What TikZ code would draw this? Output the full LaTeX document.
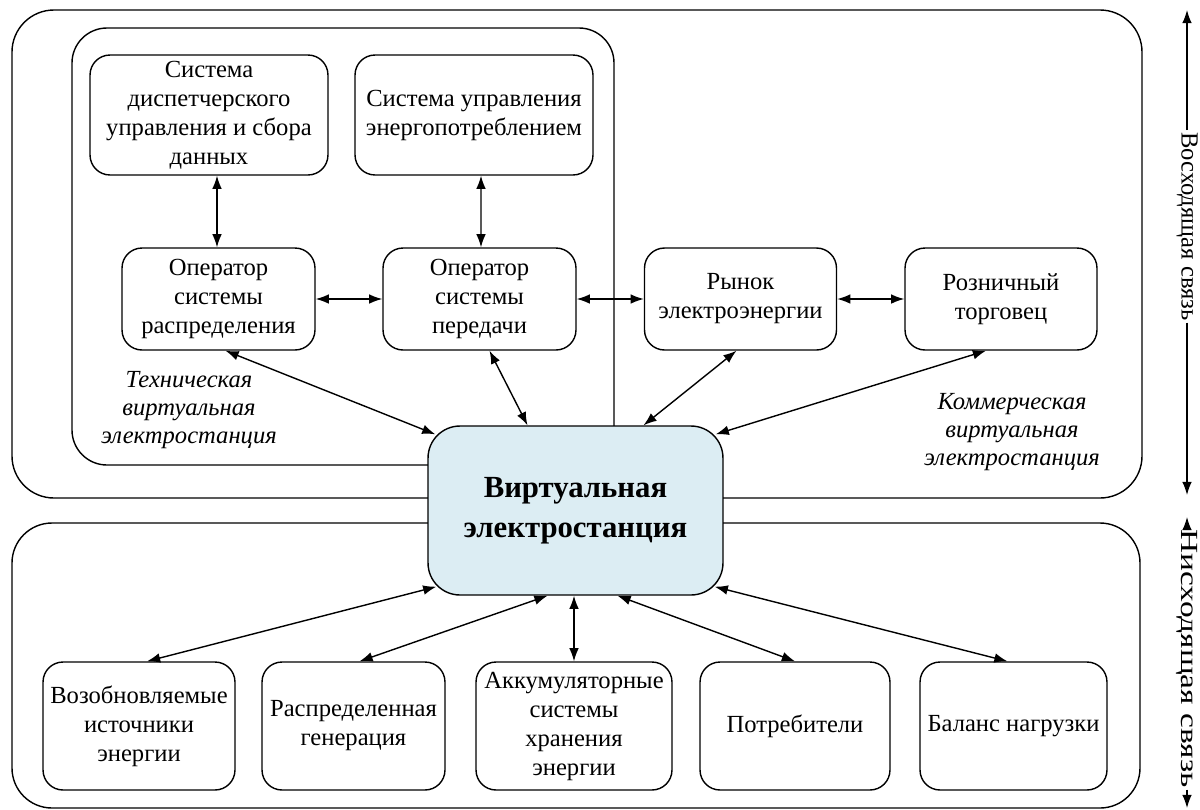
\documentclass[tikz,border=0pt]{standalone}
\usepackage{fontspec}
\setmainfont{Liberation Serif}
\usetikzlibrary{arrows.meta,calc}

\definecolor{vppblue}{RGB}{220,237,243}

\tikzset{
  box/.style={draw, line width=0.8pt, rounded corners=0.4cm, align=center,
    inner sep=0pt, font={\fontsize{14pt}{16.5pt}\selectfont}},
  frame/.style={draw, line width=0.8pt},
  link/.style={line width=0.8pt, {Latex[length=7.5pt,width=5.5pt]}-{Latex[length=7.5pt,width=5.5pt]}},
  tip/.style={line width=0.8pt, -{Latex[length=7.5pt,width=5.5pt]}},
  vpplabel/.style={align=center, font={\itshape\fontsize{14pt}{16pt}\selectfont}},
  side/.style={rotate=-90, inner sep=1pt, font={\fontsize{14pt}{16pt}\selectfont}},
}

\begin{document}
\begin{tikzpicture}[x=0.02cm, y=-0.02cm]
  \useasboundingbox (0,0) rectangle (1200,809);
  % frames
  \draw[frame, rounded corners=0.84cm] (12,10) rectangle (1142,498);
  \draw[frame, rounded corners=0.8cm] (12,523) rectangle (1140,808);
  \draw[frame, rounded corners=0.7cm] (72,28) rectangle (614,465);

  % upper level
  \node[box, minimum width=4.76cm, minimum height=2.4cm] (scada) at (209,115)
    {Система\\диспетчерского\\управления и сбора\\данных};
  \node[box, minimum width=4.76cm, minimum height=2.4cm] (ems) at (474,115)
    {Система управления\\энергопотреблением};
  \node[box, minimum width=3.86cm, minimum height=2.04cm] (dso) at (218.5,299)
    {Оператор\\системы\\распределения};
  \node[box, minimum width=3.86cm, minimum height=2.04cm] (tso) at (479.5,299)
    {Оператор\\системы\\передачи};
  \node[box, minimum width=3.84cm, minimum height=2.04cm] (market) at (740.5,299)
    {Рынок\\электроэнергии};
  \node[box, minimum width=3.84cm, minimum height=2.04cm] (retail) at (1001,299)
    {Розничный\\торговец};

  \node[box, fill=vppblue, rounded corners=0.64cm, minimum width=5.9cm, minimum height=3.38cm,
    font={\bfseries\fontsize{17.5pt}{22.5pt}\selectfont}] (vpp) at (575.5,510.5)
    {Виртуальная\\электростанция};

  % lower level
  \node[box, minimum width=3.84cm, minimum height=2.56cm] (ren) at (139,726)
    {Возобновляемые\\источники\\энергии};
  \node[box, minimum width=3.66cm, minimum height=2.56cm] (gen) at (353.5,726)
    {Распределенная\\генерация};
  \node[box, minimum width=3.92cm, minimum height=2.56cm] (bat) at (574,726)
    {Аккумуляторные\\системы\\хранения\\энергии};
  \node[box, minimum width=3.8cm, minimum height=2.56cm] (cons) at (795,726)
    {Потребители};
  \node[box, minimum width=3.74cm, minimum height=2.56cm] (bal) at (1013.5,726)
    {Баланс нагрузки};

  \node[vpplabel] (techlabel) at (189,410) {Техническая\\виртуальная\\электростанция};
  \node[vpplabel] (commlabel) at (1012,432) {Коммерческая\\виртуальная\\электростанция};

  % links
  \draw[link] ($(scada.south)+(8,0)$) -- ($(dso.north)+(-1.5,0)$);
  \draw[link] ($(ems.south)+(7,0)$) -- ($(tso.north)+(1.5,0)$);
  \draw[link] (dso.east) -- (tso.west);
  \draw[link] (tso.east) -- (market.west);
  \draw[link] (market.east) -- (retail.west);
  \draw[link] ($(dso.south)+(7,0)$) -- ($(vpp.north west)+(8,9)$);
  \draw[link] ($(tso.south)+(10,0)$) -- ($(vpp.north)+(-48,0)$);
  \draw[link] ($(market.south)+(-4,0)$) -- ($(vpp.north)+(68,0)$);
  \draw[link] ($(retail.south)+(-15,0)$) -- ($(vpp.north east)+(-8,9)$);

  \draw[link] ($(vpp.south west)+(9,-9)$) -- ($(ren.north)+(8,0)$);
  \draw[link] ($(vpp.south)+(-28,0)$) -- ($(gen.north)+(6,0)$);
  \draw[link] ($(vpp.south)+(-1.5,0)$) -- (bat.north);
  \draw[link] ($(vpp.south)+(42,0)$) -- (cons.north);
  \draw[link] ($(vpp.south east)+(-9,-9)$) -- ($(bal.north)+(-6,0)$);

  % side labels
  \node[side, anchor=west] (uplink) at (1187,130) {Восходящая связь};
  \coordinate (uptop) at (1187,10);
  \coordinate (upbottom) at (1187,495);
  \draw[tip] (uplink.west) -- (uptop);
  \draw[tip] (uplink.east) -- (upbottom);
  \node[side, anchor=west] (downlink) at (1187,527)
    {\addfontfeature{FakeStretch=1.36}Нисходящая связь};
  \coordinate (downtop) at (1187,517);
  \coordinate (downbottom) at (1187,808);
  \draw[tip] (downlink.west) -- (downtop);
  \draw[tip] (downlink.east) -- (downbottom);
\end{tikzpicture}
\end{document}
